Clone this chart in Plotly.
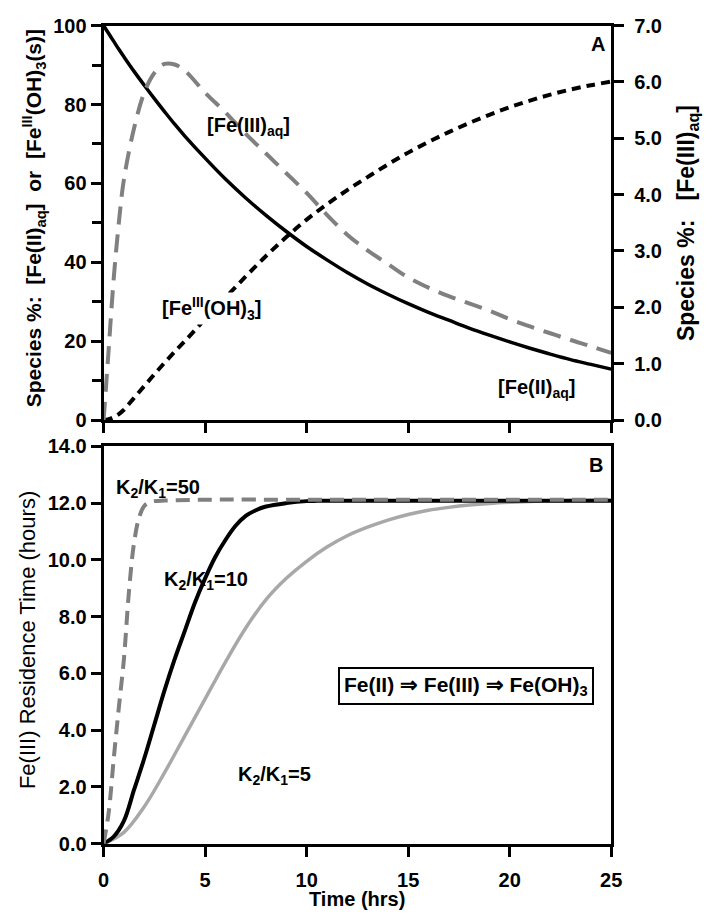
import plotly.graph_objects as go

# ---------------- Panel A: iron speciation over time ----------------
time_a = [0, 0.25, 0.5, 0.75, 1, 1.5, 2, 2.5, 3, 3.5, 4, 5, 6, 7, 8, 9, 10,
          11, 12, 13, 14, 15, 16, 17, 18, 19, 20, 21, 22, 23, 24, 25]
# Fe(II)aq, % (left axis)
fe2_aq = [100, 98.0, 96.0, 94.0, 92.1, 88.4, 84.9, 81.5, 78.2, 75.0, 72.0,
          66.4, 61.1, 56.3, 51.9, 47.8, 44.0, 40.6, 37.4, 34.5, 31.9, 29.5,
          27.3, 25.3, 23.3, 21.5, 19.8, 18.2, 16.7, 15.3, 14.1, 12.9]
# Fe(III)aq, % (right axis)
fe3_aq = [0, 1.26, 2.52, 3.5, 4.27, 5.18, 5.81, 6.16, 6.32, 6.31, 6.2, 5.81,
          5.46, 5.08, 4.73, 4.38, 4.03, 3.64, 3.29, 3.01, 2.77, 2.53, 2.35,
          2.2, 2.07, 1.94, 1.79, 1.66, 1.54, 1.42, 1.31, 1.19]
# Fe(III)(OH)3 solid, % (left axis)
fe3_oh3 = [0, 0.2, 0.7, 1.5, 2.6, 5.6, 8.6, 11.6, 14.5, 17.3, 20.0, 25.6,
           31.0, 36.4, 41.6, 46.4, 50.8, 54.7, 58.3, 61.6, 64.8, 67.8, 70.5,
           73.0, 75.3, 77.4, 79.3, 81.0, 82.5, 83.8, 84.9, 85.8]

# ---------------- Panel B: Fe(III) residence time ----------------
t_k50 = [0, 0.25, 0.5, 0.75, 1, 1.25, 1.5, 1.75, 2, 2.25, 2.5, 3, 5, 10, 15, 20, 25]
res_k50 = [0, 1.1, 3.0, 4.8, 6.5, 8.9, 10.6, 11.5, 11.9, 12.02, 12.07, 12.09,
           12.12, 12.12, 12.12, 12.12, 12.12]

t_k10 = [0, 0.5, 1, 1.5, 2, 2.5, 3, 3.5, 4, 4.5, 5, 5.5, 6, 6.5, 7, 7.5, 8, 9,
         10, 10.5, 15, 20, 25]
res_k10 = [0, 0.25, 0.8, 1.9, 3.0, 4.2, 5.4, 6.5, 7.5, 8.5, 9.35, 10.1, 10.7,
           11.2, 11.55, 11.75, 11.88, 12.0, 12.07, 12.08, 12.08, 12.08, 12.08]

t_k5 = [0, 1, 2, 3, 4, 5, 6, 7, 8, 9, 10, 11, 12, 13, 14, 15, 16, 17, 18, 19,
        20, 21, 22, 23, 24, 25]
res_k5 = [0, 0.4, 1.3, 2.5, 3.8, 5.1, 6.4, 7.6, 8.6, 9.35, 9.95, 10.45, 10.85,
          11.15, 11.4, 11.6, 11.75, 11.85, 11.93, 11.99, 12.03, 12.06, 12.08,
          12.09, 12.1, 12.1]

x_ticks = [0, 5, 10, 15, 20, 25]

W, H = 711, 922
FONT = "Liberation Sans, Arial, sans-serif"
GRAY = "#808080"
LIGHT = "#a8a8a8"


def px_x(p):
    return p / W


def px_y(p):
    return 1 - p / H


fig = go.Figure()

# Panel A traces
fig.add_trace(go.Scatter(x=time_a, y=fe2_aq, mode="lines", xaxis="x", yaxis="y",
                         line=dict(color="black", width=3.5), line_shape="spline",
                         name="[Fe(II)aq]", showlegend=False))
fig.add_trace(go.Scatter(x=time_a, y=fe3_oh3, mode="lines", xaxis="x", yaxis="y",
                         line=dict(color="black", width=4, dash="9px,6px"),
                         line_shape="spline", name="[Fe(III)(OH)3]", showlegend=False))
fig.add_trace(go.Scatter(x=time_a, y=fe3_aq, mode="lines", xaxis="x", yaxis="y2",
                         line=dict(color=GRAY, width=4, dash="18px,10px"),
                         line_shape="spline", name="[Fe(III)aq]", showlegend=False))

# Panel B traces
fig.add_trace(go.Scatter(x=t_k5, y=res_k5, mode="lines", xaxis="x2", yaxis="y3",
                         line=dict(color=LIGHT, width=3.5), line_shape="spline",
                         name="K2/K1=5", showlegend=False))
fig.add_trace(go.Scatter(x=t_k10, y=res_k10, mode="lines", xaxis="x2", yaxis="y3",
                         line=dict(color="black", width=4), line_shape="spline",
                         name="K2/K1=10", showlegend=False))
fig.add_trace(go.Scatter(x=t_k50, y=res_k50, mode="lines", xaxis="x2", yaxis="y3",
                         line=dict(color=GRAY, width=4, dash="14px,8px"),
                         line_shape="spline", name="K2/K1=50", showlegend=False))

x_dom = [px_x(100), px_x(620)]
tickfont = dict(family=FONT, size=20, color="black", weight="bold")
axis_common = dict(showgrid=False, zeroline=False, showline=True, linecolor="black",
                   linewidth=3, ticks="outside", tickwidth=3, tickcolor="black",
                   ticklen=10, tickfont=tickfont)

fig.update_layout(
    width=W, height=H,
    margin=dict(l=0, r=0, t=0, b=0),
    paper_bgcolor="white", plot_bgcolor="white",
    showlegend=False,
    xaxis=dict(domain=x_dom, anchor="y", range=[0, 25], tickvals=x_ticks,
               showticklabels=False, mirror=True, **axis_common),
    yaxis=dict(domain=[px_y(419), px_y(15)], anchor="x", range=[0, 100],
               tickvals=[0, 20, 40, 60, 80, 100],
               minor=dict(tickvals=[10, 30, 50, 70, 90], ticks="outside",
                          ticklen=9, tickwidth=3, tickcolor="black"),
               **axis_common),
    yaxis2=dict(overlaying="y", anchor="x", side="right", range=[0, 7],
                tickvals=[0, 1, 2, 3, 4, 5, 6, 7], tickformat=".1f",
                ticklabelstandoff=6, **axis_common),
    xaxis2=dict(domain=x_dom, anchor="y3", range=[0, 25], tickvals=x_ticks,
                mirror=True, ticklabelstandoff=6, **axis_common),
    yaxis3=dict(domain=[px_y(853), px_y(446)], anchor="x2", range=[0, 14],
                tickvals=[0, 2, 4, 6, 8, 10, 12, 14], tickformat=".1f",
                mirror=True, **axis_common),
)

lab = dict(family=FONT, size=20, color="black", weight="bold")
annotations = [
    # axis titles
    dict(text="Species %:  [Fe(II)<sub>aq</sub>]  or  [Fe<sup>III</sup>(OH)<sub>3</sub>(s)]",
         xref="paper", yref="paper", x=px_x(29), y=px_y(212), textangle=-90,
         showarrow=False, xanchor="center", yanchor="middle",
         font=dict(family=FONT, size=21, color="black", weight="bold")),
    dict(text="Species %:   [Fe(III)<sub>aq</sub>]",
         xref="paper", yref="paper", x=px_x(699), y=px_y(217), textangle=-90,
         showarrow=False, xanchor="center", yanchor="middle",
         font=dict(family=FONT, size=23, color="black", weight="bold")),
    dict(text="Fe(III) Residence Time (hours)",
         xref="paper", yref="paper", x=px_x(22), y=px_y(644), textangle=-90,
         showarrow=False, xanchor="center", yanchor="middle",
         font=dict(family=FONT, size=22, color="black")),
    dict(text="Time (hrs)", xref="paper", yref="paper", x=px_x(360), y=px_y(910),
         showarrow=False, xanchor="center", yanchor="middle", font=lab),
    # panel A labels
    dict(text="A", xref="x", yref="y", x=24.33, y=95.3, showarrow=False,
         xanchor="center", yanchor="middle", font=lab),
    dict(text="[Fe(III)<sub>aq</sub>]", xref="x", yref="y", x=7.16, y=74.5,
         showarrow=False, xanchor="center", yanchor="middle", font=lab),
    dict(text="[Fe<sup>III</sup>(OH)<sub>3</sub>]", xref="x", yref="y", x=5.29, y=28.2,
         showarrow=False, xanchor="center", yanchor="middle", font=lab,
         bgcolor="white"),
    dict(text="[Fe(II)<sub>aq</sub>]", xref="x", yref="y", x=21.3, y=7.9,
         showarrow=False, xanchor="center", yanchor="middle", font=lab),
    # panel B labels
    dict(text="B", xref="x2", yref="y3", x=24.23, y=13.35, showarrow=False,
         xanchor="center", yanchor="middle", font=lab),
    dict(text="K<sub>2</sub>/K<sub>1</sub>=50", xref="x2", yref="y3", x=2.69, y=12.52,
         showarrow=False, xanchor="center", yanchor="middle", font=lab),
    dict(text="K<sub>2</sub>/K<sub>1</sub>=10", xref="x2", yref="y3", x=5.05, y=9.29,
         showarrow=False, xanchor="center", yanchor="middle", font=lab),
    dict(text="K<sub>2</sub>/K<sub>1</sub>=5", xref="x2", yref="y3", x=8.4, y=2.4,
         showarrow=False, xanchor="center", yanchor="middle", font=lab),
    dict(text="Fe(II) \u21D2 Fe(III) \u21D2 Fe(OH)<sub>3</sub>", xref="x2", yref="y3",
         x=17.87, y=5.57, showarrow=False, xanchor="center", yanchor="middle",
         font=dict(family=FONT, size=21, color="black", weight="bold"),
         bordercolor="black", borderwidth=2, borderpad=4, bgcolor="white"),
]
fig.update_layout(annotations=annotations)

fig.write_html("out.html")
